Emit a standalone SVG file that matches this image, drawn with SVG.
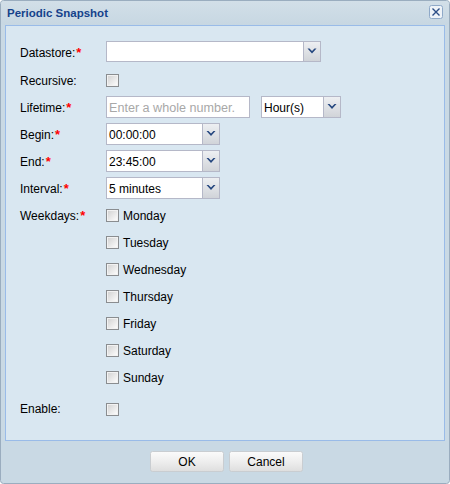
<svg xmlns="http://www.w3.org/2000/svg" width="450" height="484" viewBox="0 0 450 484">
<defs>
<linearGradient id="trig" x1="0" y1="0" x2="0" y2="1"><stop offset="0" stop-color="#eef0f3"/><stop offset="1" stop-color="#d0d3d8"/></linearGradient>
<linearGradient id="cb" x1="0" y1="0" x2="1" y2="1"><stop offset="0" stop-color="#d4d4d4"/><stop offset="1" stop-color="#fbfbfb"/></linearGradient>
<linearGradient id="btn" x1="0" y1="0" x2="0" y2="1"><stop offset="0" stop-color="#fbfbfb"/><stop offset="0.5" stop-color="#eeeeee"/><stop offset="1" stop-color="#dedede"/></linearGradient>
<linearGradient id="title" x1="0" y1="0" x2="0" y2="1"><stop offset="0" stop-color="#d2dfe8"/><stop offset="1" stop-color="#c7d7e2"/></linearGradient>
<g id="chev"><path d="M-4.5,-2.5 L-2.5,-2.5 L0,0 L2.5,-2.5 L4.5,-2.5 L0,2.5 Z" fill="#25477f"/></g>
<g id="chk"><rect x="0" y="0" width="13" height="13" fill="#8a8d90"/><rect x="1" y="1" width="11" height="11" fill="#f2f2f2"/><rect x="2" y="2" width="9" height="9" fill="url(#cb)"/></g>
</defs>
<style>
.lbl{font-family:"Liberation Sans",Arial,sans-serif;font-size:12px;fill:#000}
.req{font-family:"Liberation Sans",Arial,sans-serif;font-size:13px;font-weight:bold;fill:#ff0000}
.val{font-family:"Liberation Sans",Arial,sans-serif;font-size:12px;fill:#000}
.ph{font-family:"Liberation Sans",Arial,sans-serif;font-size:12px;fill:#a8a8a8}
.fld{fill:#ffffff;stroke:#b5b8c8;stroke-width:1}
.trg{fill:url(#trig);stroke:#b5b8c8;stroke-width:1}
.btn{fill:url(#btn);stroke:#c9cdd1;stroke-width:1}
.bt{font-family:"Liberation Sans",Arial,sans-serif;font-size:12px;fill:#000;text-anchor:middle}
</style>
<g id="window">
<rect x="0.5" y="0.5" width="449" height="483" rx="3" fill="#c9d9e4" stroke="#9aadbf"/>
<rect x="1" y="1" width="448" height="24" rx="3" fill="url(#title)"/>
<text x="7" y="17" font-family="'Liberation Sans',Arial,sans-serif" font-size="11.5" font-weight="bold" fill="#15428b">Periodic Snapshot</text>
<g id="close">
<rect x="429.5" y="5.5" width="13" height="13" rx="2" fill="#eef3f8" stroke="#8fa9c8"/>
<path d="M432.5,8.5 L439.5,15.5 M439.5,8.5 L432.5,15.5" stroke="#2b4d86" stroke-width="1.4"/>
</g>
<rect x="5.5" y="25.5" width="439" height="415" fill="#d9e7f1" stroke="#99bbe8"/>
</g>
<g id="datastore">
<text class="lbl" x="20" y="57">Datastore:<tspan class="req" dx="1">*</tspan></text>
<rect class="fld" x="106.5" y="41.5" width="197" height="20"/>
<rect class="trg" x="303.5" y="41.5" width="17" height="20"/>
<use href="#chev" x="312" y="51"/>
</g>
<g id="recursive">
<text class="lbl" x="20" y="85">Recursive:</text>
<use href="#chk" x="106" y="74"/>
</g>
<g id="lifetime">
<text class="lbl" x="20" y="112">Lifetime:<tspan class="req" dx="1">*</tspan></text>
<rect class="fld" x="106.5" y="96.5" width="143" height="21"/>
<text class="ph" x="109" y="112" textLength="126" lengthAdjust="spacingAndGlyphs">Enter a whole number.</text>
<rect class="fld" x="261.5" y="96.5" width="62" height="21"/>
<rect class="trg" x="323.5" y="96.5" width="17" height="21"/>
<text class="val" x="264" y="112">Hour(s)</text>
<use href="#chev" x="332" y="106.5"/>
</g>
<g id="begin">
<text class="lbl" x="20" y="139">Begin:<tspan class="req" dx="1">*</tspan></text>
<rect class="fld" x="106.5" y="123.5" width="96" height="21"/>
<rect class="trg" x="202.5" y="123.5" width="17" height="21"/>
<text class="val" x="109" y="139">00:00:00</text>
<use href="#chev" x="211" y="133.5"/>
</g>
<g id="end">
<text class="lbl" x="20" y="166">End:<tspan class="req" dx="1">*</tspan></text>
<rect class="fld" x="106.5" y="150.5" width="96" height="21"/>
<rect class="trg" x="202.5" y="150.5" width="17" height="21"/>
<text class="val" x="109" y="166">23:45:00</text>
<use href="#chev" x="211" y="160.5"/>
</g>
<g id="interval">
<text class="lbl" x="20" y="193">Interval:<tspan class="req" dx="1">*</tspan></text>
<rect class="fld" x="106.5" y="177.5" width="96" height="21"/>
<rect class="trg" x="202.5" y="177.5" width="17" height="21"/>
<text class="val" x="109" y="193">5 minutes</text>
<use href="#chev" x="211" y="187.5"/>
</g>
<g id="weekdays">
<text class="lbl" x="20" y="220">Weekdays:<tspan class="req" dx="1">*</tspan></text>
<use href="#chk" x="106" y="209"/><text class="val" x="123" y="220">Monday</text>
<use href="#chk" x="106" y="236"/><text class="val" x="123" y="247">Tuesday</text>
<use href="#chk" x="106" y="263"/><text class="val" x="123" y="274">Wednesday</text>
<use href="#chk" x="106" y="290"/><text class="val" x="123" y="301">Thursday</text>
<use href="#chk" x="106" y="317"/><text class="val" x="123" y="328">Friday</text>
<use href="#chk" x="106" y="344"/><text class="val" x="123" y="355">Saturday</text>
<use href="#chk" x="106" y="371"/><text class="val" x="123" y="382">Sunday</text>
</g>
<g id="enable">
<text class="lbl" x="20" y="413">Enable:</text>
<use href="#chk" x="106" y="403"/>
</g>
<g id="buttons">
<rect class="btn" x="150.5" y="451.5" width="73" height="20" rx="2"/>
<text class="bt" x="187" y="466">OK</text>
<rect class="btn" x="229.5" y="451.5" width="73" height="20" rx="2"/>
<text class="bt" x="266" y="466">Cancel</text>
</g>
<g id="connectors"/>
</svg>
